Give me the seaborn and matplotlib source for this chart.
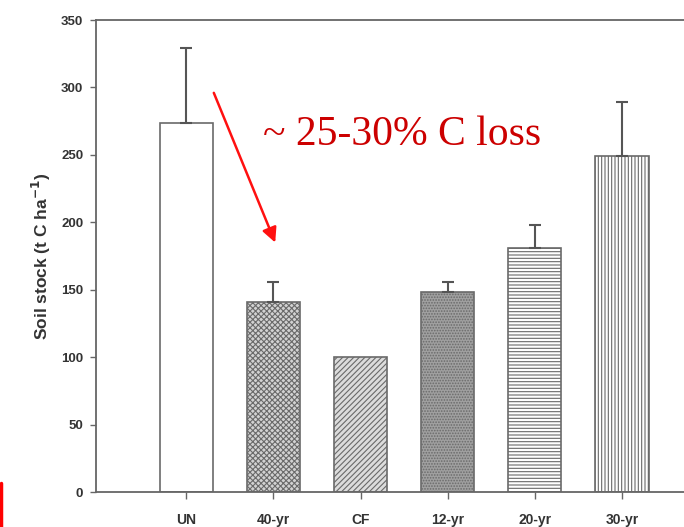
import matplotlib
matplotlib.use("Agg")
import matplotlib.pyplot as plt
from matplotlib.lines import Line2D
import seaborn as sns
import pandas as pd
import numpy as np

# Данные
sites = ["UN", "40-yr", "CF", "12-yr", "20-yr", "30-yr"]
stock = [274, 141, 100, 148, 181, 249]
stock_err = [55, 15, 0, 8, 17, 40]

# Стили заливки баров
faces = ["white", "#d2d2d2", "#dcdcdc", "#a0a0a0", "white", "white"]
hatches = [None, "xxxxxx", "//////", "......", "-----", "|||||"]

sns.set_theme(style="white")
plt.rcParams["font.family"] = ["Liberation Sans", "DejaVu Sans"]
plt.rcParams["hatch.linewidth"] = 0.8

df = pd.DataFrame({"site": sites, "stock": stock})

fig = plt.figure(figsize=(6.84, 5.27), dpi=100)
ax = fig.add_axes([0.140, 0.0664, 0.875, 0.8956])

sns.barplot(data=df, x="site", y="stock", order=sites, errorbar=None,
            width=0.61, ax=ax, color="white")

for patch, fc, h in zip(ax.patches, faces, hatches):
    patch.set_facecolor(fc)
    patch.set_edgecolor("#6a6a6a")
    patch.set_linewidth(1.2)
    if h:
        patch.set_hatch(h)

# только верхняя половина погрешности, как в SigmaPlot
xs = np.arange(len(sites))
err = np.array(stock_err)
mask = err > 0
ax.errorbar(xs[mask], np.array(stock)[mask],
            yerr=[np.zeros(mask.sum()), err[mask]],
            fmt="none", ecolor="#555555", elinewidth=1.5, capsize=4, capthick=1.5)

ax.set_xlim(-1.04, 5.83)
ax.set_ylim(0, 350)
ax.set_yticks(range(0, 351, 50))
ax.set_xlabel("")
ax.set_ylabel("Soil stock (t C ha$^{\\mathbf{-1}}$)", fontsize=12.5,
              fontweight="bold", color="#333333", labelpad=6)

for side in ["left", "bottom", "top"]:
    ax.spines[side].set_color("#666666")
    ax.spines[side].set_linewidth(1.3)
ax.spines["right"].set_visible(False)

ax.tick_params(axis="y", direction="out", length=4, width=1, color="#666666",
               labelsize=9.5, labelcolor="#333333", pad=5, left=True)
ax.tick_params(axis="x", direction="out", length=5, width=1, color="#666666",
               labelsize=10, labelcolor="#333333", pad=10, bottom=True)
for lbl in ax.get_xticklabels() + ax.get_yticklabels():
    lbl.set_fontweight("bold")

# стрелка и подпись
ax.annotate("", xy=(1.02, 185), xytext=(0.315, 296),
            arrowprops=dict(arrowstyle="-|>", color="#ff1010", lw=1.8,
                            mutation_scale=22, shrinkA=0, shrinkB=0))
ax.text(0.876, 265, "~ 25-30% C loss", color="#cc0000", fontsize=30,
        family=["Liberation Serif", "DejaVu Serif"], va="center", ha="left")

# красная полоска в левом нижнем углу
fig.add_artist(Line2D([0.002, 0.002], [0.0, 0.083], color="#ff0000", lw=2.5))

fig.savefig("out.png", dpi=100)
